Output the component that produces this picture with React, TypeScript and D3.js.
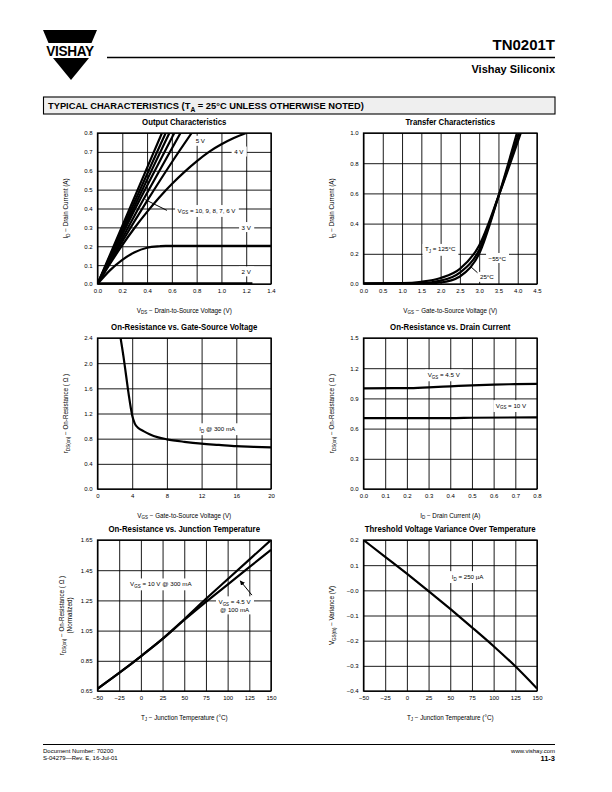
import React, { useEffect, useRef } from "react";
import * as d3 from "d3";

type Pt = [number, number];
type Seg = [string, number?];

const FONT = "'Liberation Sans', Arial, Helvetica, sans-serif";

// ---------- Output Characteristics ----------
const outXTicks = [0, 0.2, 0.4, 0.6, 0.8, 1.0, 1.2, 1.4];
const outYTicks = [0, 0.1, 0.2, 0.3, 0.4, 0.5, 0.6, 0.7, 0.8];
const outVgs10: Pt[] = [[0, 0], [0.26, 0.4], [0.52, 0.8]];
const outVgs9: Pt[] = [[0, 0], [0.275, 0.4], [0.55, 0.8]];
const outVgs8: Pt[] = [[0, 0], [0.29, 0.4], [0.58, 0.8]];
const outVgs7: Pt[] = [[0, 0], [0.305, 0.4], [0.62, 0.8]];
const outVgs6: Pt[] = [[0, 0], [0.33, 0.4], [0.67, 0.8]];
const outVgs5: Pt[] = [[0, 0], [0.2, 0.225], [0.4, 0.44], [0.6, 0.645], [0.76, 0.8]];
const outVgs4: Pt[] = [[0, 0], [0.1, 0.106], [0.2, 0.206], [0.3, 0.298], [0.4, 0.382], [0.5, 0.46], [0.6, 0.53], [0.7, 0.593], [0.8, 0.65], [0.9, 0.7], [1.0, 0.74], [1.1, 0.773], [1.2, 0.8]];
const outVgs3: Pt[] = [[0, 0], [0.1, 0.072], [0.2, 0.128], [0.3, 0.168], [0.4, 0.192], [0.5, 0.2], [0.55, 0.202], [1.4, 0.202]];
const outVgs2: Pt[] = [[0, 0.004], [1.25, 0.004]];

// ---------- Transfer Characteristics ----------
const trXTicks = [0, 0.5, 1.0, 1.5, 2.0, 2.5, 3.0, 3.5, 4.0, 4.5];
const trYTicks = [0, 0.2, 0.4, 0.6, 0.8, 1.0];
const trT125: Pt[] = [[0, 0.004], [1.0, 0.006], [1.5, 0.015], [2.0, 0.04], [2.5, 0.1], [3.0, 0.255], [3.5, 0.58], [4.08, 1.0]];
const trT25: Pt[] = [[0, 0.002], [1.5, 0.006], [2.0, 0.022], [2.5, 0.075], [3.0, 0.225], [3.5, 0.58], [4.03, 1.0]];
const trTm55: Pt[] = [[0, 0.001], [1.5, 0.003], [2.0, 0.01], [2.5, 0.05], [3.0, 0.2], [3.5, 0.58], [3.98, 1.0]];

// ---------- On-Resistance vs. Gate-Source Voltage ----------
const rgXTicks = [0, 4, 8, 12, 16, 20];
const rgYTicks = [0, 0.4, 0.8, 1.2, 1.6, 2.0, 2.4];
const rgId300: Pt[] = [[2.6, 2.45], [3.0, 2.1], [3.3, 1.8], [3.6, 1.5], [4.0, 1.17], [4.3, 1.04], [4.7, 0.97], [5.3, 0.92], [6, 0.87], [7, 0.82], [8, 0.79], [10, 0.75], [12, 0.72], [14, 0.7], [16, 0.68], [18, 0.67], [20, 0.66]];

// ---------- On-Resistance vs. Drain Current ----------
const rdXTicks = [0, 0.1, 0.2, 0.3, 0.4, 0.5, 0.6, 0.7, 0.8];
const rdYTicks = [0, 0.3, 0.6, 0.9, 1.2, 1.5];
const rdVgs45: Pt[] = [[0, 1.0], [0.2, 1.002], [0.3, 1.01], [0.4, 1.02], [0.5, 1.03], [0.6, 1.037], [0.7, 1.042], [0.8, 1.045]];
const rdVgs10: Pt[] = [[0, 0.705], [0.4, 0.705], [0.5, 0.708], [0.8, 0.712]];

// ---------- On-Resistance vs. Junction Temperature ----------
const rtXTicks = [-50, -25, 0, 25, 50, 75, 100, 125, 150];
const rtYTicks = [0.65, 0.85, 1.05, 1.25, 1.45, 1.65];
const rtVgs10: Pt[] = [[-50, 0.665], [-25, 0.77], [0, 0.88], [25, 0.995], [50, 1.125], [75, 1.26], [100, 1.39], [125, 1.52], [150, 1.65]];
const rtVgs45: Pt[] = [[-50, 0.665], [-25, 0.77], [0, 0.88], [25, 0.995], [50, 1.12], [75, 1.24], [100, 1.355], [125, 1.47], [150, 1.585]];

// ---------- Threshold Voltage Variance ----------
const vtXTicks = [-50, -25, 0, 25, 50, 75, 100, 125, 150];
const vtYTicks = [-0.4, -0.3, -0.2, -0.1, 0, 0.1, 0.2];
const vtId250: Pt[] = [[-50, 0.2], [-25, 0.133], [0, 0.066], [25, -0.003], [50, -0.074], [75, -0.147], [100, -0.222], [125, -0.302], [150, -0.39]];

const COLX = [97.5, 363.5];
const ROWY = [133, 338, 540];
const PW = 173.5;
const PH = 151;

function rich(t: any, segs: Seg[], size: number) {
  segs.forEach(([s, sub], i) => {
    const ts = t.append("tspan").text(s);
    if (sub) ts.attr("font-size", size * 0.72).attr("dy", size * 0.3);
    else if (i > 0 && segs[i - 1][1]) ts.attr("dy", -size * 0.3);
  });
}

function boxLabel(g: any, cx: number, cy: number, lines: Seg[][], size = 6.2, padX = 2.5, padY = 1.5) {
  const lg = g.append("g");
  const rect = lg.append("rect").attr("fill", "#fff");
  const lh = size * 1.3;
  const texts: SVGTextElement[] = [];
  lines.forEach((segs, i) => {
    const t = lg.append("text")
      .attr("x", cx)
      .attr("y", cy + (i - (lines.length - 1) / 2) * lh + size * 0.35)
      .attr("text-anchor", "middle")
      .attr("font-size", size)
      .attr("font-family", FONT)
      .attr("fill", "#000");
    rich(t, segs, size);
    texts.push(t.node());
  });
  let x0 = Infinity, y0 = Infinity, x1 = -Infinity, y1 = -Infinity;
  texts.forEach((n) => {
    const b = n.getBBox();
    x0 = Math.min(x0, b.x); y0 = Math.min(y0, b.y);
    x1 = Math.max(x1, b.x + b.width); y1 = Math.max(y1, b.y + b.height);
  });
  rect.attr("x", x0 - padX).attr("y", y0 - padY).attr("width", x1 - x0 + 2 * padX).attr("height", y1 - y0 + 2 * padY);
}

interface Cfg {
  id: string; col: number; row: number;
  xd: [number, number]; yd: [number, number];
  xt: number[]; yt: number[];
  xf: (d: number) => string; yf: (d: number) => string;
  title: string; xTitle: Seg[]; yTitle: Seg[][];
}

function drawChart(svg: any, defs: any, c: Cfg) {
  const left = COLX[c.col];
  const top = ROWY[c.row];
  const x = d3.scaleLinear().domain(c.xd).range([left, left + PW]);
  const y = d3.scaleLinear().domain(c.yd).range([top + PH, top]);
  const g = svg.append("g");
  const gx = g.append("g").attr("transform", `translate(0,${top + PH})`)
    .call(d3.axisBottom(x).tickValues(c.xt).tickFormat(c.xf as any).tickSizeInner(-PH).tickSizeOuter(0).tickPadding(5));
  const gy = g.append("g").attr("transform", `translate(${left},0)`)
    .call(d3.axisLeft(y).tickValues(c.yt).tickFormat(c.yf as any).tickSizeInner(-PW).tickSizeOuter(0).tickPadding(5));
  [gx, gy].forEach((a: any) => {
    a.attr("font-family", FONT).attr("font-size", 6);
    a.select(".domain").remove();
    a.selectAll(".tick line").attr("stroke", "#000").attr("stroke-width", 0.9);
    a.selectAll(".tick text").attr("fill", "#000");
  });
  g.append("rect").attr("x", left).attr("y", top).attr("width", PW).attr("height", PH)
    .attr("fill", "none").attr("stroke", "#000").attr("stroke-width", 1.3);
  defs.append("clipPath").attr("id", "clip-" + c.id).append("rect")
    .attr("x", left).attr("y", top).attr("width", PW).attr("height", PH);

  // title
  g.append("text").attr("transform", `translate(${left + PW / 2},${top - 8}) scale(0.87,1)`)
    .attr("text-anchor", "middle").attr("font-family", FONT).attr("font-weight", "bold")
    .attr("font-size", 9).attr("fill", "#000").text(c.title);
  // x title
  const xt = g.append("text").attr("x", left + PW / 2).attr("y", top + PH + 28.5)
    .attr("text-anchor", "middle").attr("font-family", FONT).attr("font-size", 6.3).attr("fill", "#000");
  rich(xt, c.xTitle, 6.3);
  // y title(s)
  const baseX = c.col === 0 ? 66 : 332;
  const n = c.yTitle.length;
  c.yTitle.forEach((segs, i) => {
    const tx = baseX + (i - (n - 1) / 2) * 8 + 2;
    const t = g.append("text").attr("transform", `translate(${tx},${top + PH / 2}) rotate(-90)`)
      .attr("text-anchor", "middle").attr("font-family", FONT).attr("font-size", 6.3).attr("fill", "#000");
    rich(t, segs, 6.3);
  });
  const curves = g.append("g").attr("clip-path", `url(#clip-${c.id})`);
  const line = d3.line<Pt>().x((d) => x(d[0])).y((d) => y(d[1])).curve(d3.curveMonotoneX);
  const plot = (data: Pt[], w = 2.2) => {
    curves.append("path").datum(data).attr("d", line).attr("fill", "none")
      .attr("stroke", "#000").attr("stroke-width", w).attr("stroke-linejoin", "round");
  };
  return { g, x, y, plot };
}

const f1 = d3.format(".1f");
const f2 = d3.format(".2f");
const f0 = d3.format("d");

export default function App() {
  const ref = useRef<SVGSVGElement>(null);
  useEffect(() => {
    const svg = d3.select(ref.current);
    svg.selectAll("*").remove();
    const defs = svg.append("defs");
    defs.append("marker").attr("id", "arrow").attr("viewBox", "0 0 10 10").attr("refX", 9).attr("refY", 5)
      .attr("markerWidth", 5).attr("markerHeight", 5).attr("orient", "auto-start-reverse")
      .append("path").attr("d", "M0,0 L10,5 L0,10 z").attr("fill", "#000");

    // ---------- Header ----------
    const hd = svg.append("g");
    hd.append("polygon").attr("points", "43,30 97,30 91.5,43 48.5,43").attr("fill", "#000");
    hd.append("text").attr("transform", "translate(70,56) scale(0.88,1)").attr("text-anchor", "middle")
      .attr("font-family", FONT).attr("font-weight", "bold").attr("font-size", 15.5).attr("letter-spacing", -0.4)
      .attr("fill", "#000").text("VISHAY");
    hd.append("polygon").attr("points", "53,58 89,58 71,80").attr("fill", "#000");
    hd.append("line").attr("x1", 107).attr("x2", 555).attr("y1", 57.5).attr("y2", 57.5).attr("stroke", "#000").attr("stroke-width", 1.3);
    hd.append("text").attr("x", 555).attr("y", 50).attr("text-anchor", "end").attr("font-family", FONT)
      .attr("font-weight", "bold").attr("font-size", 15).attr("fill", "#000").text("TN0201T");
    hd.append("text").attr("x", 555).attr("y", 73).attr("text-anchor", "end").attr("font-family", FONT)
      .attr("font-weight", "bold").attr("font-size", 11).attr("fill", "#000").text("Vishay Siliconix");
    hd.append("rect").attr("x", 43.5).attr("y", 97).attr("width", 511.5).attr("height", 17)
      .attr("fill", "#efefef").attr("stroke", "#000").attr("stroke-width", 1.1);
    const bt = hd.append("text").attr("x", 48).attr("y", 109.3).attr("font-family", FONT)
      .attr("font-weight", "bold").attr("font-size", 9.3).attr("fill", "#000");
    rich(bt, [["TYPICAL CHARACTERISTICS (T"], ["A", 1], [" = 25\u00B0C UNLESS OTHERWISE NOTED)"]], 9.3);

    // ---------- Footer ----------
    const ft = svg.append("g").attr("font-family", FONT).attr("fill", "#000");
    ft.append("line").attr("x1", 43).attr("x2", 555).attr("y1", 744.5).attr("y2", 744.5).attr("stroke", "#000").attr("stroke-width", 1.2);
    ft.append("text").attr("x", 43).attr("y", 753).attr("font-size", 6).text("Document Number:  70200");
    ft.append("text").attr("x", 43).attr("y", 760).attr("font-size", 6).text("S-04279\u2014Rev. E, 16-Jul-01");
    ft.append("text").attr("x", 555).attr("y", 753).attr("font-size", 6).attr("text-anchor", "end").text("www.vishay.com");
    ft.append("text").attr("x", 555).attr("y", 761).attr("font-size", 7.5).attr("font-weight", "bold").attr("text-anchor", "end").text("11-3");

    const idTitle: Seg[][] = [[["I"], ["D", 1], [" \u2212 Drain Current (A)"]]];
    const rdsTitle: Seg[] = [["r"], ["DS(on)", 1], [" \u2212 On-Resistance ( \u03A9 )"]];
    const vgsX: Seg[] = [["V"], ["GS", 1], ["  \u2212  Gate-to-Source Voltage (V)"]];
    const tjX: Seg[] = [["T"], ["J", 1], ["  \u2212  Junction Temperature (\u00B0C)"]];

    // 1 Output Characteristics
    {
      const c = drawChart(svg, defs, {
        id: "out", col: 0, row: 0, xd: [0, 1.4], yd: [0, 0.8], xt: outXTicks, yt: outYTicks, xf: f1, yf: f1,
        title: "Output Characteristics",
        xTitle: [["V"], ["DS", 1], ["  \u2212  Drain-to-Source Voltage (V)"]],
        yTitle: idTitle,
      });
      [outVgs10, outVgs9, outVgs8, outVgs7, outVgs6, outVgs5, outVgs4, outVgs3].forEach((d) => c.plot(d));
      c.plot(outVgs2, 2.2);
      c.g.append("line").attr("x1", c.x(0.385)).attr("y1", c.y(0.447)).attr("x2", c.x(0.56)).attr("y2", c.y(0.39))
        .attr("stroke", "#000").attr("stroke-width", 1);
      boxLabel(c.g, c.x(0.83), c.y(0.757), [[["5 V"]]]);
      boxLabel(c.g, c.x(1.14), c.y(0.70), [[["4 V"]]]);
      boxLabel(c.g, c.x(0.88), c.y(0.39), [[["V"], ["GS", 1], [" = 10, 9, 8, 7, 6 V"]]]);
      boxLabel(c.g, c.x(1.2), c.y(0.30), [[["3 V"]]]);
      boxLabel(c.g, c.x(1.2), c.y(0.065), [[["2 V"]]]);
    }
    // 2 Transfer
    {
      const c = drawChart(svg, defs, {
        id: "tr", col: 1, row: 0, xd: [0, 4.5], yd: [0, 1.0], xt: trXTicks, yt: trYTicks, xf: f1, yf: f1,
        title: "Transfer Characteristics", xTitle: vgsX, yTitle: idTitle,
      });
      [trT125, trT25, trTm55].forEach((d) => c.plot(d));
      c.g.append("line").attr("x1", c.x(3.02)).attr("y1", c.y(0.06)).attr("x2", c.x(2.78)).attr("y2", c.y(0.115))
        .attr("stroke", "#000").attr("stroke-width", 1);
      boxLabel(c.g, c.x(1.99), c.y(0.23), [[["T"], ["J", 1], [" = 125\u00B0C"]]]);
      boxLabel(c.g, c.x(3.47), c.y(0.17), [[["\u221255\u00B0C"]]]);
      boxLabel(c.g, c.x(3.2), c.y(0.045), [[["25\u00B0C"]]]);
    }
    // 3 On-Resistance vs VGS
    {
      const c = drawChart(svg, defs, {
        id: "rg", col: 0, row: 1, xd: [0, 20], yd: [0, 2.4], xt: rgXTicks, yt: rgYTicks, xf: f0, yf: f1,
        title: "On-Resistance vs. Gate-Source Voltage", xTitle: [["V"], ["GS", 1], [" \u2212 Gate-to-Source Voltage (V)"]], yTitle: [rdsTitle],
      });
      c.plot(rgId300);
      boxLabel(c.g, c.x(13.8), c.y(0.96), [[["I"], ["D", 1], [" @ 300 mA"]]]);
    }
    // 4 On-Resistance vs ID
    {
      const c = drawChart(svg, defs, {
        id: "rd", col: 1, row: 1, xd: [0, 0.8], yd: [0, 1.5], xt: rdXTicks, yt: rdYTicks, xf: f1, yf: f1,
        title: "On-Resistance vs. Drain Current", xTitle: [["I"], ["D", 1], ["  \u2212  Drain Current (A)"]], yTitle: [rdsTitle],
      });
      c.plot(rdVgs45);
      c.plot(rdVgs10);
      boxLabel(c.g, c.x(0.37), c.y(1.135), [[["V"], ["GS", 1], [" = 4.5 V"]]]);
      boxLabel(c.g, c.x(0.68), c.y(0.83), [[["V"], ["GS", 1], [" = 10 V"]]]);
    }
    // 5 On-Resistance vs Tj
    {
      const c = drawChart(svg, defs, {
        id: "rt", col: 0, row: 2, xd: [-50, 150], yd: [0.65, 1.65], xt: rtXTicks, yt: rtYTicks, xf: f0, yf: f2,
        title: "On-Resistance vs. Junction Temperature", xTitle: tjX, yTitle: [rdsTitle, [["(Normalized)"]]],
      });
      c.plot(rtVgs10);
      c.plot(rtVgs45);
      boxLabel(c.g, c.x(23), c.y(1.36), [[["V"], ["GS", 1], [" = 10 V @ 300 mA"]]]);
      boxLabel(c.g, c.x(108), c.y(1.215), [[["V"], ["GS", 1], [" = 4.5 V"]], [["@ 100 mA"]]]);
      c.g.append("line").attr("x1", c.x(128)).attr("y1", c.y(1.285)).attr("x2", c.x(114.5)).attr("y2", c.y(1.38))
        .attr("stroke", "#000").attr("stroke-width", 1).attr("marker-end", "url(#arrow)");
    }
    // 6 Threshold variance
    {
      const c = drawChart(svg, defs, {
        id: "vt", col: 1, row: 2, xd: [-50, 150], yd: [-0.4, 0.2], xt: vtXTicks, yt: vtYTicks, xf: f0,
        yf: (d: number) => (Math.abs(d) < 1e-9 ? "\u22120.0" : f1(d)),
        title: "Threshold Voltage Variance Over Temperature", xTitle: tjX,
        yTitle: [[["V"], ["GS(th)", 1], [" \u2212 Variance (V)"]]],
      });
      c.plot(vtId250);
      boxLabel(c.g, c.x(70), c.y(0.055), [[["I"], ["D", 1], [" = 250 \u00B5A"]]]);
    }
  }, []);
  return (
    <svg ref={ref} width={612} height={792} style={{ position: "absolute", left: 0, top: 0, background: "#fff" }} />
  );
}
